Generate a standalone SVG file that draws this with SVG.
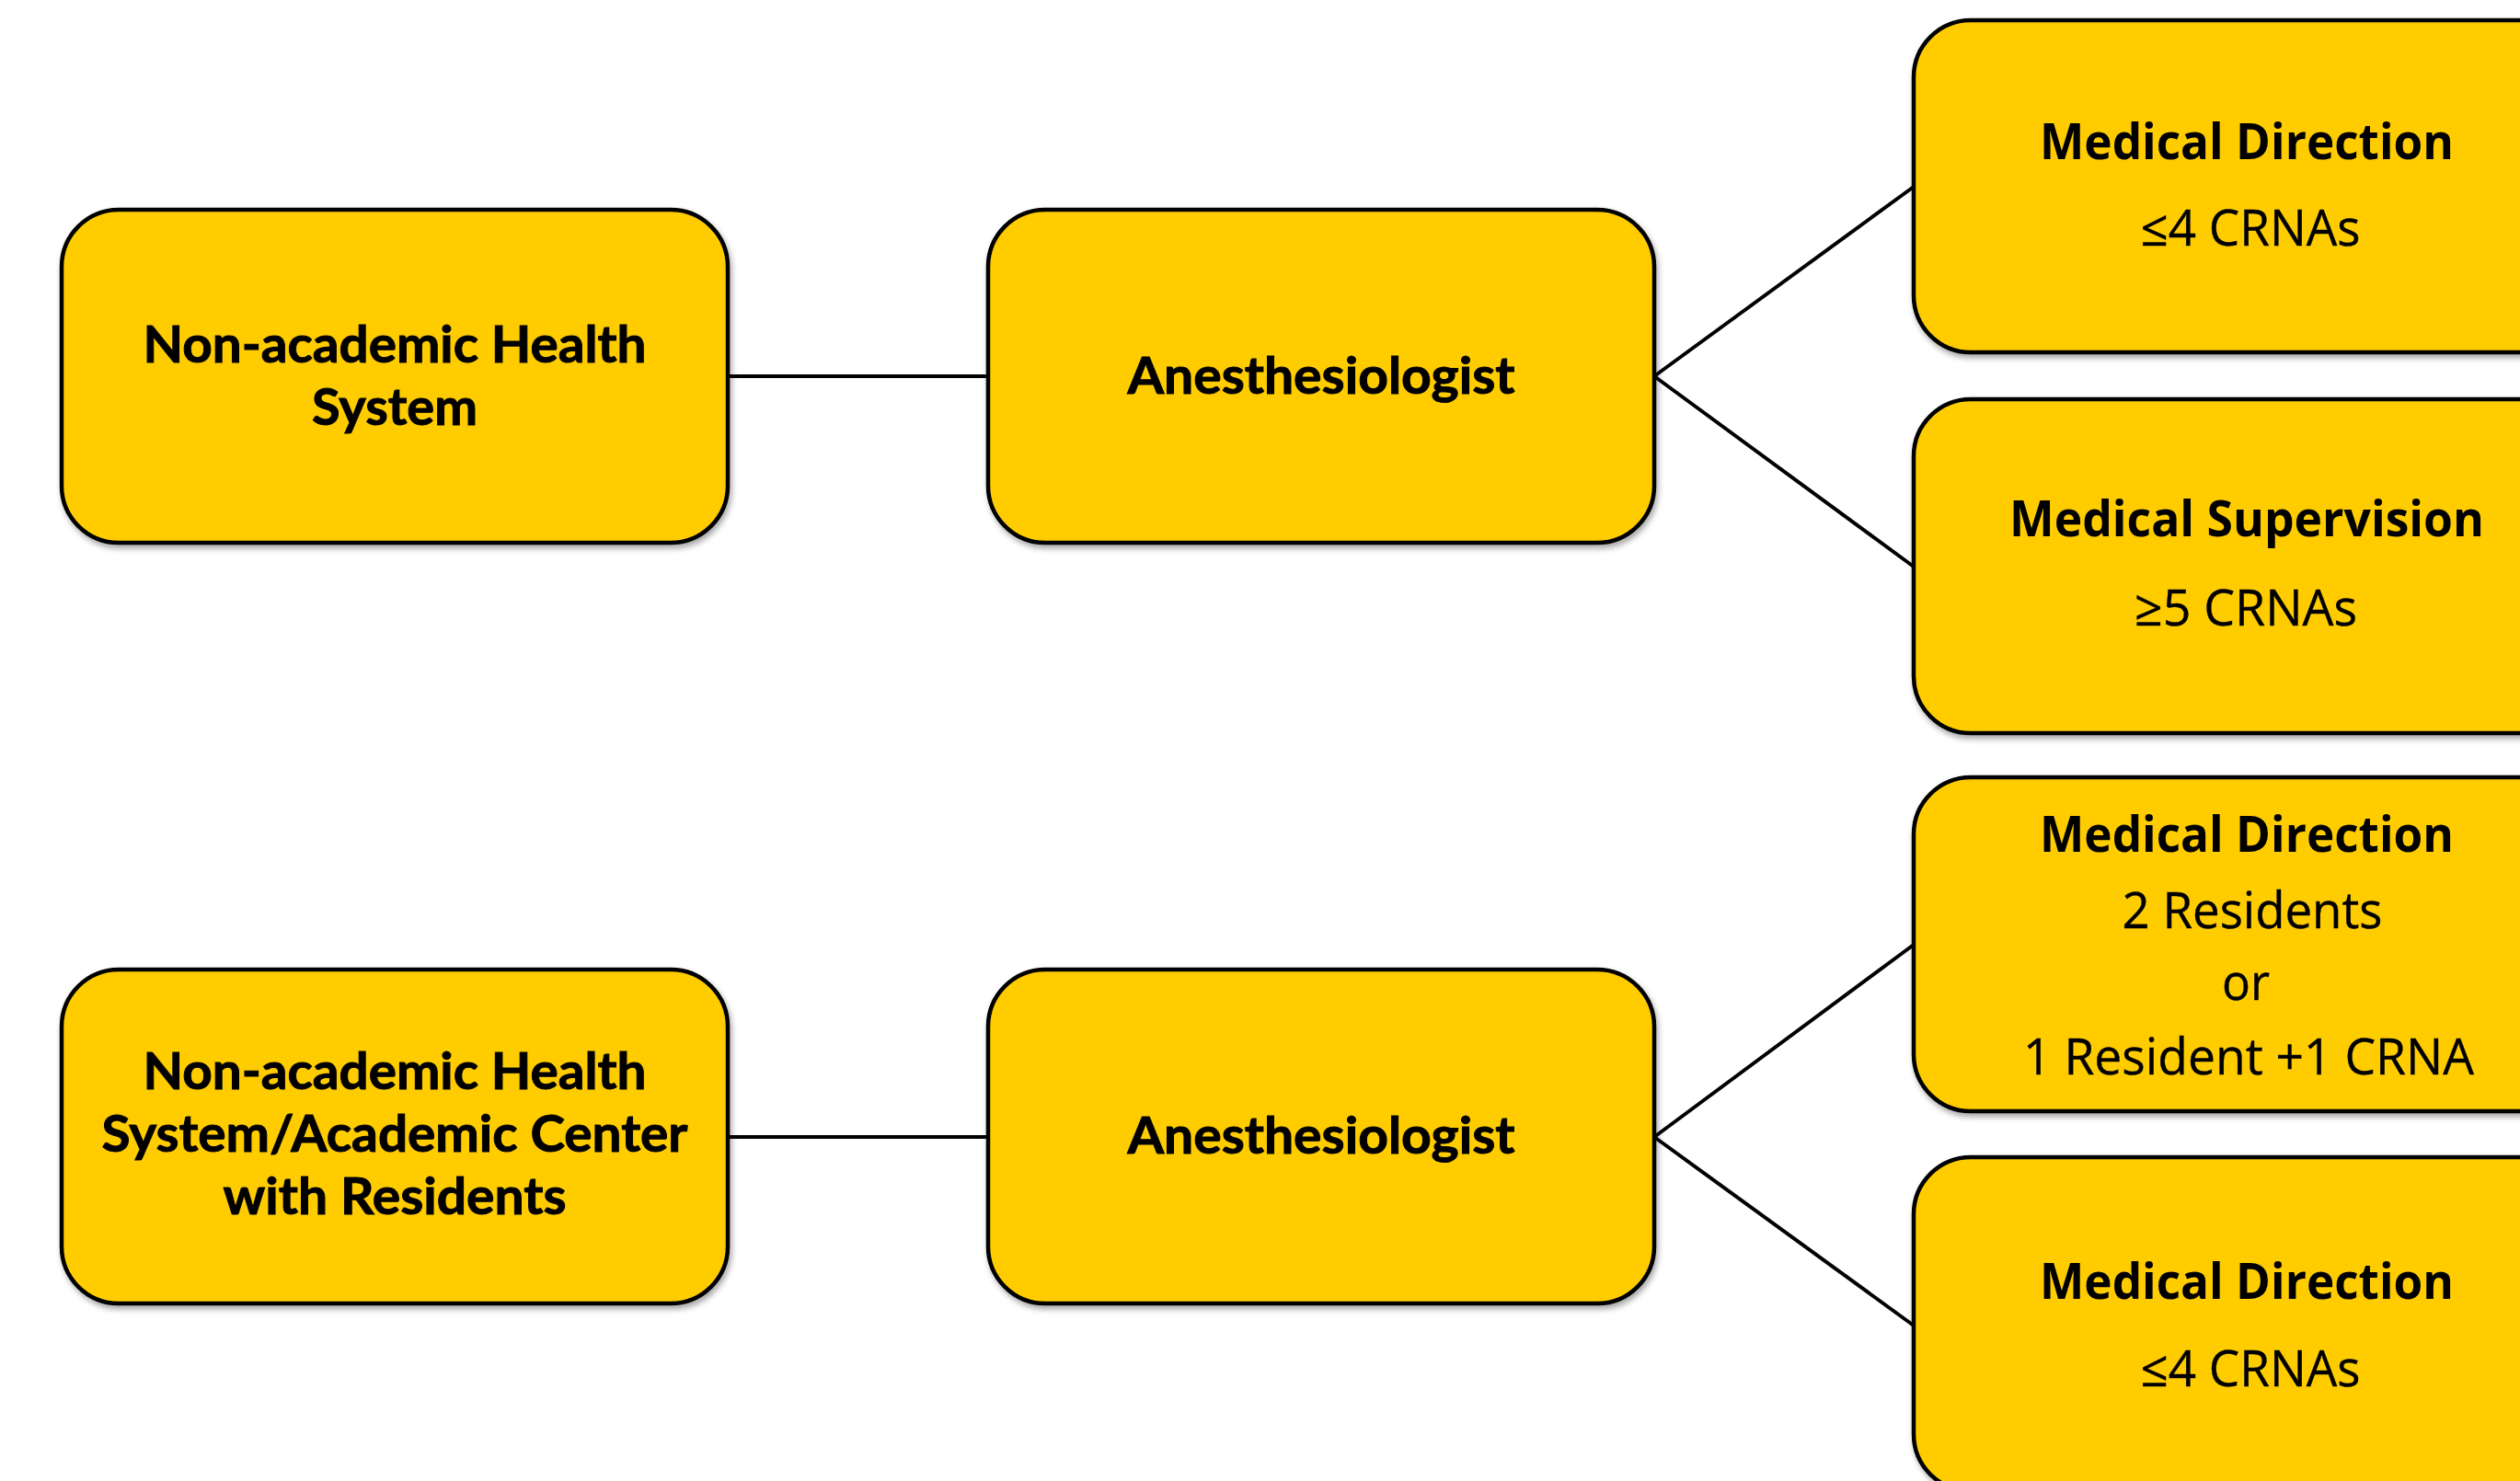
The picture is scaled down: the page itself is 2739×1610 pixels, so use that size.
<svg xmlns="http://www.w3.org/2000/svg" width="2739" height="1610" viewBox="0 0 2739 1610">
<style>
.box{fill:#FFCC00;stroke:#000;stroke-width:4.5}
.conn{stroke:#000;stroke-width:4;fill:none}
.lt{font-family:Lato,"Liberation Sans",sans-serif;font-weight:bold;font-size:56px;fill:#000;stroke:#000;stroke-width:1;text-anchor:middle}
.rb{font-family:"Open Sans","Liberation Sans",sans-serif;font-weight:bold;font-size:54px;fill:#000;text-anchor:middle}
.rr{font-family:"Open Sans","Liberation Sans",sans-serif;font-weight:normal;font-size:54px;fill:#000;stroke:#000;stroke-width:0.4;text-anchor:middle}
</style>
<defs>
<filter id="sh" x="-5%" y="-5%" width="110%" height="115%">
<feDropShadow dx="2" dy="4" stdDeviation="3" flood-color="#000" flood-opacity="0.35"/>
</filter>
</defs>
<rect width="2739" height="1610" fill="#fff"/>
<g id="connectors">
<line class="conn" x1="791" y1="409" x2="1074" y2="409"/>
<line class="conn" x1="1798" y1="409" x2="2080" y2="203"/>
<line class="conn" x1="1798" y1="409" x2="2080" y2="616"/>
<line class="conn" x1="791" y1="1236" x2="1074" y2="1236"/>
<line class="conn" x1="1798" y1="1236" x2="2080" y2="1027"/>
<line class="conn" x1="1798" y1="1236" x2="2080" y2="1441"/>
</g>
<g id="node-nonacademic">
<rect class="box" filter="url(#sh)" x="67" y="228" width="724" height="362" rx="62" ry="62"/>
<text class="lt" x="429" y="394" textLength="547" lengthAdjust="spacingAndGlyphs">Non-academic Health</text>
<text class="lt" x="429" y="462" textLength="180" lengthAdjust="spacingAndGlyphs">System</text>
</g>
<g id="node-anesth-1">
<rect class="box" filter="url(#sh)" x="1074" y="228" width="724" height="362" rx="62" ry="62"/>
<text class="lt" x="1436" y="428" textLength="421" lengthAdjust="spacingAndGlyphs">Anesthesiologist</text>
</g>
<g id="node-md-1">
<rect class="box" filter="url(#sh)" x="2080" y="22" width="726" height="361" rx="62" ry="62"/>
<text class="rb" x="2442" y="173" textLength="450" lengthAdjust="spacingAndGlyphs">Medical Direction</text>
<text class="rr" x="2446" y="267" textLength="239" lengthAdjust="spacingAndGlyphs">≤4 CRNAs</text>
</g>
<g id="node-ms">
<rect class="box" filter="url(#sh)" x="2080" y="434" width="726" height="363" rx="62" ry="62"/>
<text class="rb" x="2442" y="583" textLength="516" lengthAdjust="spacingAndGlyphs">Medical Supervision</text>
<text class="rr" x="2441" y="680" textLength="242" lengthAdjust="spacingAndGlyphs">≥5 CRNAs</text>
</g>
<g id="node-nonacademic-residents">
<rect class="box" filter="url(#sh)" x="67" y="1054" width="724" height="363" rx="62" ry="62"/>
<text class="lt" x="429" y="1184" textLength="547" lengthAdjust="spacingAndGlyphs">Non-academic Health</text>
<text class="lt" x="429" y="1252" textLength="637" lengthAdjust="spacingAndGlyphs">System/Academic Center</text>
<text class="lt" x="429" y="1320" textLength="373" lengthAdjust="spacingAndGlyphs">with Residents</text>
</g>
<g id="node-anesth-2">
<rect class="box" filter="url(#sh)" x="1074" y="1054" width="724" height="363" rx="62" ry="62"/>
<text class="lt" x="1436" y="1254" textLength="421" lengthAdjust="spacingAndGlyphs">Anesthesiologist</text>
</g>
<g id="node-md-2">
<rect class="box" filter="url(#sh)" x="2080" y="845" width="726" height="363" rx="62" ry="62"/>
<text class="rb" x="2442" y="926" textLength="450" lengthAdjust="spacingAndGlyphs">Medical Direction</text>
<text class="rr" x="2448" y="1009" textLength="283" lengthAdjust="spacingAndGlyphs">2 Residents</text>
<text class="rr" x="2441" y="1087" textLength="52" lengthAdjust="spacingAndGlyphs">or</text>
<text class="rr" x="2444" y="1168" textLength="490" lengthAdjust="spacingAndGlyphs">1 Resident +1 CRNA</text>
</g>
<g id="node-md-3">
<rect class="box" filter="url(#sh)" x="2080" y="1258" width="726" height="363" rx="62" ry="62"/>
<text class="rb" x="2442" y="1412" textLength="450" lengthAdjust="spacingAndGlyphs">Medical Direction</text>
<text class="rr" x="2446" y="1507" textLength="239" lengthAdjust="spacingAndGlyphs">≤4 CRNAs</text>
</g>
</svg>
